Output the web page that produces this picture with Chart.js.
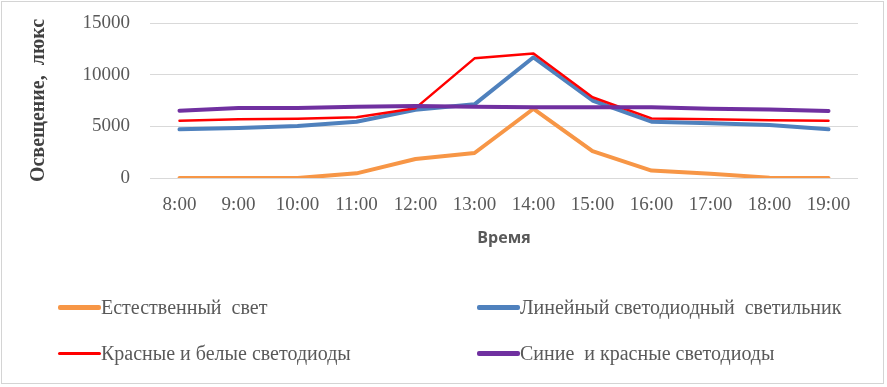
<!DOCTYPE html>
<html>
<head>
<meta charset="utf-8">
<script src="https://cdn.jsdelivr.net/npm/chart.js@4/dist/chart.umd.min.js"></script>
<style>
  html, body { margin: 0; padding: 0; background: #fff; }
  #frame { position: absolute; left: 1px; top: 1px; width: 883px; height: 383px; border: 1px solid #d4d4d4; box-sizing: border-box; }
  #wrap { position: absolute; left: 0; top: 0; width: 887px; height: 262px; }
  #legend { position: absolute; left: 0; top: 0; width: 887px; height: 387px; pointer-events: none; }
  .item { position: absolute; height: 24px; display: flex; align-items: center; }
  .swatch { width: 43px; }
  .lbl { font-family: "Liberation Serif", "Times New Roman", serif; font-size: 20px; color: #595959; white-space: pre; transform-origin: left center; }
</style>
</head>
<body>
<div id="frame"></div>
<div id="wrap"><canvas id="c"></canvas></div>
<div id="legend"></div>
<script>
const categories = ["8:00","9:00","10:00","11:00","12:00","13:00","14:00","15:00","16:00","17:00","18:00","19:00"];
const seriesNames = ["Естественный  свет","Линейный светодиодный  светильник","Красные и белые светодиоды","Синие  и красные светодиоды"];
const natural   = [0, 0, 0, 450, 1840, 2420, 6700, 2600, 720, 420, 30, 0];
const linear    = [4710, 4840, 5030, 5450, 6600, 7130, 11680, 7500, 5450, 5290, 5130, 4710];
const redWhite  = [5550, 5680, 5740, 5870, 6760, 11580, 12060, 7810, 5770, 5680, 5600, 5550];
const blueRed   = [6510, 6770, 6770, 6900, 6970, 6900, 6840, 6840, 6840, 6710, 6640, 6480];
const yTicks    = [0, 5000, 10000, 15000];
const yTitle = "Освещение,  люкс";
const xTitle = "Время";

const colors = ["#F79646", "#4F81BD", "#FF0000", "#7030A0"];
const widths = [4, 4, 2.5, 4];
const values = [natural, linear, redWhite, blueRed];

const datasets = values.map((v, i) => ({
  label: seriesNames[i],
  data: v,
  borderColor: colors[i],
  backgroundColor: colors[i],
  borderWidth: widths[i],
  pointRadius: 0,
  tension: 0,
  fill: false,
  borderCapStyle: 'round',
  borderJoinStyle: 'round',
  order: 4 - i
}));

const serif = "'Liberation Serif', 'Times New Roman', serif";

new Chart(document.getElementById('c'), {
  type: 'line',
  data: { labels: categories, datasets },
  options: {
    responsive: true,
    maintainAspectRatio: false,
    animation: false,
    layout: { padding: { left: 27, right: 29, top: 23, bottom: 14 } },
    plugins: { legend: { display: false }, tooltip: { enabled: false } },
    scales: {
      x: {
        offset: true,
        grid: { display: false, drawTicks: false },
        border: { display: false },
        ticks: { color: '#595959', font: { family: serif, size: 19 }, padding: 16, maxRotation: 0, autoSkip: false },
        title: { display: true, text: xTitle, color: '#595959', font: { family: "'Liberation Sans Narrow', 'Open Sans', sans-serif", size: 16, weight: 'bold' }, padding: { top: 6, bottom: 0 } },
        afterFit: s => { s.height = 262 - 14 - 178; }
      },
      y: {
        min: 0, max: 15000,
        afterBuildTicks: s => { s.ticks = yTicks.map(v => ({ value: v })); },
        grid: { color: '#D9D9D9', lineWidth: 1, drawTicks: true, tickLength: 18, tickColor: 'rgba(0,0,0,0)' },
        border: { display: false },
        ticks: { color: '#595959', font: { family: serif, size: 19 }, padding: 2, callback: v => String(v) },
        title: { display: true, text: yTitle, color: '#404040', font: { family: serif, size: 20, weight: 'bold' }, padding: { top: 0, bottom: 0 } },
        afterFit: s => { s.width = 150 - 27; }
      }
    }
  }
});

// HTML legend built from the dataset arrays
const legendPos = [[58, 307], [477, 307], [58, 353], [477, 353]];
const legend = document.getElementById('legend');
seriesNames.forEach((name, i) => {
  const it = document.createElement('div');
  it.className = 'item';
  it.style.left = legendPos[i][0] + 'px';
  it.style.top = (legendPos[i][1] - 12) + 'px';
  const sw = document.createElement('div');
  sw.className = 'swatch';
  sw.style.height = (widths[i] === 4 ? 5 : 3) + 'px';
  sw.style.background = colors[i];
  sw.style.borderRadius = '2px';
  const lb = document.createElement('span');
  lb.className = 'lbl';
  lb.textContent = name;
  it.appendChild(sw); it.appendChild(lb);
  legend.appendChild(it);
});
</script>
</body>
</html>
